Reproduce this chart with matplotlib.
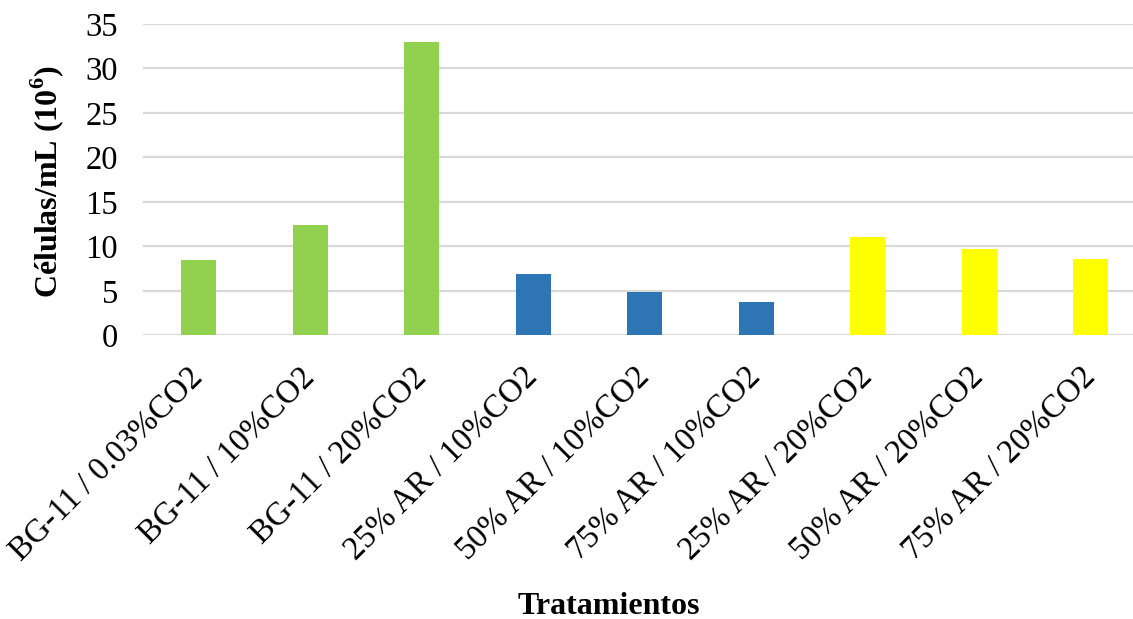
import matplotlib
matplotlib.use("Agg")
import matplotlib.pyplot as plt

# Cell density per treatment
treatments = [
    "BG-11 / 0.03%CO2",
    "BG-11 / 10%CO2",
    "BG-11 / 20%CO2",
    "25% AR / 10%CO2",
    "50% AR / 10%CO2",
    "75% AR / 10%CO2",
    "25% AR / 20%CO2",
    "50% AR / 20%CO2",
    "75% AR / 20%CO2",
]
cells = [8.5, 12.4, 33.0, 6.9, 4.9, 3.8, 11.0, 9.7, 8.6]
bar_colors = ["#92D050"] * 3 + ["#2E75B6"] * 3 + ["#FFFF00"] * 3
y_ticks = [0, 5, 10, 15, 20, 25, 30, 35]

plt.rcParams["font.family"] = ["Liberation Serif", "DejaVu Serif"]
plt.rcParams["mathtext.fontset"] = "custom"
plt.rcParams["mathtext.rm"] = "Liberation Serif"
plt.rcParams["mathtext.bf"] = "Liberation Serif:bold"

W, H = 1133, 619
fig = plt.figure(figsize=(W / 100, H / 100), dpi=100)
ax = fig.add_axes([143 / W, (H - 335.3) / H, 1003.5 / W, 311.3 / H])

x = list(range(len(treatments)))
ax.bar(x, cells, width=0.314, color=bar_colors, zorder=3)

ax.set_xlim(-0.5, len(treatments) - 0.5)
ax.set_ylim(0, 35)
ax.set_yticks(y_ticks)
ax.yaxis.grid(True, color="#D9D9D9", linewidth=1.6, zorder=0)
ax.set_axisbelow(True)
for s in ax.spines.values():
    s.set_visible(False)

ax.tick_params(axis="y", length=0, pad=18, labelsize=23.5)
ax.tick_params(axis="x", length=0, pad=27, labelsize=23.5)
ax.set_xticks(x)
ax.set_xticklabels(treatments, rotation=45, ha="right", va="center",
                   rotation_mode="anchor")

fig.text(47 / W, 1 - 182 / H, r"Células/mL (10$^{\mathbf{6}}$)", rotation=90,
         ha="center", va="center", fontsize=23, fontweight="bold")
fig.text(609 / W, 1 - 606 / H, "Tratamientos", ha="center", va="center",
         fontsize=23, fontweight="bold")

fig.savefig("out.png", dpi=100, facecolor="white")
